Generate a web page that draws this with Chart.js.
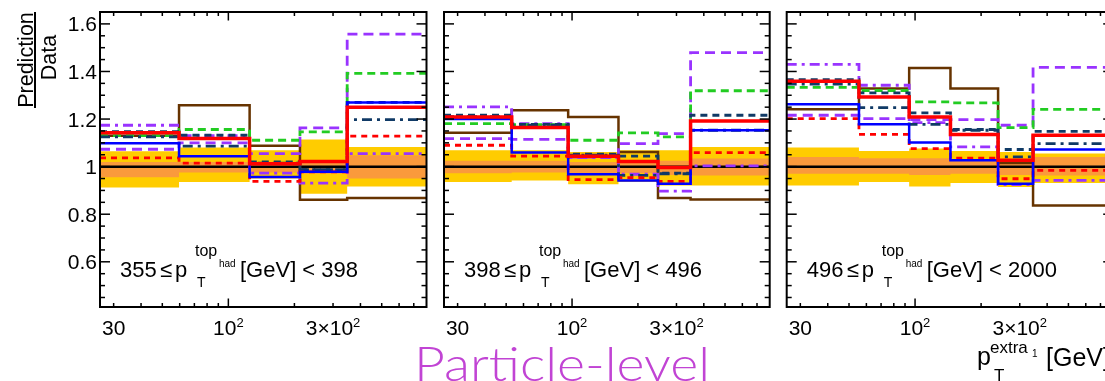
<!DOCTYPE html>
<html>
<head>
<meta charset="utf-8">
<script src="https://cdn.jsdelivr.net/npm/chart.js@4.4.1/dist/chart.umd.min.js"></script>
<style>
  html, body { margin: 0; padding: 0; background: #fff; width: 1105px; height: 381px; overflow: hidden; }
  canvas { position: absolute; left: 0; top: 0; }
</style>
</head>
<body>
<canvas id="panel0" width="1120" height="381"></canvas>
<canvas id="panel1" width="1120" height="381"></canvas>
<canvas id="panel2" width="1120" height="381"></canvas>
<script>
// ---- data -------------------------------------------------------------
// axis ranges: extra-jet pT in GeV (log) and Prediction/Data ratio
const xRange = [26, 800];
const yRange = [0.41, 1.65];
const unity = 1;

// bin edges of p_T^{extra1} in each p_T^{top,had} slice
const binEdges = [
  [26, 59.6, 125, 212, 348, 800],
  [26, 53, 96, 163, 247, 348, 800],
  [26, 55.5, 94, 145, 239, 345, 800]
];

// p_T^{top,had} slice boundaries [GeV]
const topSlices = [[355, 398], [398, 496], [496, 2000]];

// ratio predictions, one list per slice
const redSolid = [
  [1.142, 1.118, 1.012, 1.022, 1.250],
  [1.209, 1.164, 1.044, 1.022, 0.996, 1.192],
  [1.359, 1.293, 1.209, 1.135, 1.027, 1.132]
];
const blueSolid = [
  [1.098, 1.044, 0.956, 0.978, 1.270],
  [1.200, 1.059, 0.968, 0.942, 0.928, 1.153],
  [1.262, 1.178, 1.101, 1.027, 0.928, 1.072]
];
const brownSolid = [
  [1.130, 1.258, 1.088, 0.861, 0.868],
  [1.142, 1.237, 1.209, 1.062, 0.868, 0.862],
  [1.241, 1.328, 1.415, 1.328, 1.015, 0.837]
];
const greenDashed = [
  [1.130, 1.156, 1.111, 1.146, 1.392],
  [1.181, 1.177, 1.111, 1.142, 1.125, 1.319],
  [1.333, 1.320, 1.272, 1.268, 1.164, 1.241]
];
const purpleDashed = [
  [1.073, 1.100, 1.055, 1.163, 1.557],
  [1.118, 1.115, 1.040, 1.097, 1.139, 1.479],
  [1.216, 1.202, 1.198, 1.198, 1.174, 1.417]
];
const purpleDashDot = [
  [1.174, 1.130, 0.973, 0.931, 1.055],
  [1.251, 1.181, 1.038, 0.968, 0.897, 1.003],
  [1.430, 1.342, 1.185, 1.083, 0.925, 0.942]
];
const navyDashed = [
  [1.147, 1.132, 1.020, 0.987, 1.270],
  [1.216, 1.178, 1.052, 1.044, 0.973, 1.216],
  [1.366, 1.310, 1.226, 1.156, 1.072, 1.148]
];
const navyDashDot = [
  [1.125, 1.086, 1.015, 0.987, 1.198],
  [1.210, 1.174, 1.048, 0.963, 0.970, 1.153],
  [1.347, 1.248, 1.178, 1.153, 1.041, 1.097]
];
const redDashed = [
  [1.037, 1.015, 0.938, 0.978, 1.128],
  [1.090, 1.044, 0.945, 0.954, 0.938, 1.059],
  [1.202, 1.136, 1.076, 1.036, 0.949, 0.984]
];

// uncertainty bands (total: outer, statistical: inner)
const totalUp = [
  [1.065, 1.080, 1.069, 1.114, 1.083],
  [1.069, 1.069, 1.062, 1.069, 1.069, 1.083],
  [1.080, 1.066, 1.076, 1.066, 1.062, 1.055]
];
const totalDown = [
  [0.912, 0.935, 0.950, 0.886, 0.917],
  [0.935, 0.942, 0.926, 0.935, 0.921, 0.921],
  [0.921, 0.935, 0.917, 0.931, 0.914, 0.931]
];
const statUp = [
  [1.020, 1.020, 1.020, 1.015, 1.048],
  [1.025, 1.025, 1.020, 1.025, 1.025, 1.034],
  [1.041, 1.035, 1.035, 1.030, 1.030, 1.041]
];
const statDown = [
  [0.955, 0.975, 0.975, 0.970, 0.950],
  [0.972, 0.975, 0.970, 0.972, 0.965, 0.963],
  [0.970, 0.970, 0.965, 0.970, 0.965, 0.963]
];

// tick labels
const yTickValues = [0.6, 0.8, 1.0, 1.2, 1.4, 1.6];
const yTickLabels = ['0.6', '0.8', '1', '1.2', '1.4', '1.6'];
const xTickValues = [30, 100, 300];
const xTickLabels = [['30', ''], ['10', '2'], ['3\u00d710', '2']];
const xMinorValues = [30, 40, 50, 60, 70, 80, 90, 200, 300, 400, 500, 600, 700];
const xMajorValues = [100];

// ---- styling ----------------------------------------------------------
const FONT = "'Liberation Sans', Arial, Helvetica, sans-serif";
const panelBoxes = [
  { left: 100, right: 426.5 },
  { left: 444, right: 769.7 },
  { left: 786.7, right: 1113.2 }
];
const plotTop = 12, plotBottom = 307;

const seriesStyles = [
  { data: brownSolid,    color: '#663300', width: 2.5, dash: [],             order: 18 },
  { data: purpleDashed,  color: '#9933ff', width: 2.8, dash: [10, 6],        order: 17 },
  { data: purpleDashDot, color: '#9933ff', width: 2.8, dash: [10, 5, 3, 5],  order: 16 },
  { data: greenDashed,   color: '#22cc22', width: 2.8, dash: [8, 5],         order: 15 },
  { data: navyDashed,    color: '#103a66', width: 2.8, dash: [7, 5],         order: 14 },
  { data: navyDashDot,   color: '#103a66', width: 2.8, dash: [10, 5, 3, 5],  order: 13 },
  { data: redDashed,     color: '#ff0000', width: 2.8, dash: [6, 5],         order: 12 },
  { data: blueSolid,     color: '#0000ff', width: 2.5, dash: [],             order: 11 },
  { data: redSolid,      color: '#ff0000', width: 3.5, dash: [],             order: 10 }
];

// histogram outline: value held across each bin, stepping at the edges
function histPoints(edges, values) {
  const pts = values.map((v, i) => ({ x: edges[i], y: v }));
  pts.push({ x: edges[edges.length - 1], y: values[values.length - 1] });
  return pts;
}

function buildDatasets(p) {
  const e = binEdges[p];
  const sets = [];
  sets.push({ data: histPoints(e, totalUp[p]), fill: '+1', backgroundColor: '#ffcc00',
              borderWidth: 0, stepped: true, order: 40 });
  sets.push({ data: histPoints(e, totalDown[p]), fill: false, borderWidth: 0, stepped: true, order: 40 });
  sets.push({ data: histPoints(e, statUp[p]), fill: '+1', backgroundColor: '#fa9a3c',
              borderWidth: 0, stepped: true, order: 35 });
  sets.push({ data: histPoints(e, statDown[p]), fill: false, borderWidth: 0, stepped: true, order: 35 });
  sets.push({ data: [{ x: xRange[0], y: unity }, { x: xRange[1], y: unity }], borderColor: '#000',
              borderWidth: 2.5, fill: false, order: 30 });
  seriesStyles.forEach(s => {
    sets.push({ data: histPoints(e, s.data[p]), borderColor: s.color, borderWidth: s.width,
                borderDash: s.dash, fill: false, stepped: true, order: s.order });
  });
  return sets;
}

function seg(ctx, x1, y1, x2, y2) {
  ctx.beginPath(); ctx.moveTo(x1, y1); ctx.lineTo(x2, y2); ctx.stroke();
}

// text with a raised exponent, centred on cx
function supText(ctx, base, sup, cx, baseline, size, supSize) {
  ctx.font = size + 'px ' + FONT;
  const wb = ctx.measureText(base).width;
  ctx.font = supSize + 'px ' + FONT;
  const ws = sup ? ctx.measureText(sup).width : 0;
  const x0 = cx - (wb + ws) / 2;
  ctx.font = size + 'px ' + FONT;
  ctx.textAlign = 'left';
  ctx.fillText(base, x0, baseline);
  if (sup) {
    ctx.font = supSize + 'px ' + FONT;
    ctx.fillText(sup, x0 + wb, baseline - 8);
  }
}

function drawSliceLabel(ctx, x0, y0, lo, hi) {
  ctx.textAlign = 'left';
  ctx.textBaseline = 'alphabetic';
  ctx.font = '22px ' + FONT;
  ctx.fillText(String(lo), x0, y0);
  ctx.fillText('\u2264', x0 + 40, y0);
  ctx.fillText('p', x0 + 55, y0);
  ctx.font = '14px ' + FONT;
  ctx.fillText('T', x0 + 77, y0 + 10);
  ctx.font = '16px ' + FONT;
  ctx.fillText('top', x0 + 75, y0 - 21);
  ctx.font = '10px ' + FONT;
  ctx.fillText('had', x0 + 99, y0 - 10);
  ctx.font = '22px ' + FONT;
  ctx.fillText('[GeV] < ' + hi, x0 + 120, y0);
}

function decorations(p) {
  return {
    id: 'deco' + p,
    afterDraw(chart) {
      const ctx = chart.ctx;
      const a = chart.chartArea;
      const xs = chart.scales.x, ys = chart.scales.y;
      ctx.save();
      ctx.strokeStyle = '#000';
      ctx.fillStyle = '#000';
      ctx.lineWidth = 1.5;
      // y ticks, inward on both sides
      for (let k = 9; k <= 32; k++) {
        const py = ys.getPixelForValue(k * 0.05);
        const len = (k % 4 === 0) ? 10 : 5;
        seg(ctx, a.left, py, a.left + len, py);
        seg(ctx, a.right, py, a.right - len, py);
      }
      // x ticks, inward on bottom and top
      xMinorValues.forEach(v => {
        const px = xs.getPixelForValue(v);
        seg(ctx, px, a.bottom, px, a.bottom - 4);
        seg(ctx, px, a.top, px, a.top + 4);
      });
      xMajorValues.forEach(v => {
        const px = xs.getPixelForValue(v);
        seg(ctx, px, a.bottom, px, a.bottom - 8.5);
        seg(ctx, px, a.top, px, a.top + 8.5);
      });
      // frame
      ctx.lineWidth = 2;
      ctx.strokeRect(a.left, a.top, a.right - a.left, a.bottom - a.top);

      // x tick labels
      ctx.textBaseline = 'alphabetic';
      xTickValues.forEach((v, i) => {
        supText(ctx, xTickLabels[i][0], xTickLabels[i][1], xs.getPixelForValue(v), 335, 21, 13);
      });

      // y tick labels only on the first panel
      if (p === 0) {
        ctx.font = '21px ' + FONT;
        ctx.textAlign = 'right';
        yTickValues.forEach((v, i) => {
          ctx.fillText(yTickLabels[i], a.left - 3, ys.getPixelForValue(v) + 7.5);
        });
        // axis title: Prediction / Data
        ctx.font = '21.5px ' + FONT;
        ctx.textAlign = 'center';
        ctx.save();
        ctx.translate(33, 60);
        ctx.rotate(-Math.PI / 2);
        ctx.fillText('Prediction', 0, 0);
        ctx.restore();
        ctx.save();
        ctx.translate(55.5, 57.5);
        ctx.rotate(-Math.PI / 2);
        ctx.fillText('Data', 0, 0);
        ctx.restore();
        ctx.fillRect(34, 12, 2, 96);
      }

      drawSliceLabel(ctx, a.left + 20, 277, topSlices[p][0], topSlices[p][1]);

      if (p === 1) {
        // level annotation
        ctx.fillStyle = '#c144d4';
        ctx.textAlign = 'left';
        const fam = "Lato, 'Open Sans', sans-serif";
        ctx.font = '300 48px ' + fam;
        const w = ctx.measureText('Particle-level').width;
        ctx.save();
        ctx.translate(414, 381);
        ctx.scale(296 / w, 1);
        ctx.fillText('Particle-level', 0, 0);
        ctx.restore();
      }
      if (p === 2) {
        // x-axis title
        ctx.fillStyle = '#000';
        ctx.textAlign = 'left';
        ctx.font = '25px ' + FONT;
        ctx.fillText('p', 977, 365);
        ctx.font = '17px ' + FONT;
        ctx.fillText('T', 994, 381);
        ctx.font = '17px ' + FONT;
        ctx.fillText('extra', 990, 353);
        ctx.font = '10px ' + FONT;
        ctx.fillText('1', 1032, 357);
        ctx.font = '25px ' + FONT;
        ctx.fillText('[GeV]', 1046, 366);
      }
      ctx.restore();
    }
  };
}

[0, 1, 2].forEach(p => {
  const box = panelBoxes[p];
  const canvas = document.getElementById('panel' + p);
  new Chart(canvas, {
    type: 'line',
    data: { datasets: buildDatasets(p) },
    options: {
      responsive: false,
      animation: false,
      events: [],
      devicePixelRatio: 1,
      layout: {
        padding: { left: box.left, right: canvas.width - box.right, top: plotTop, bottom: canvas.height - plotBottom }
      },
      elements: { point: { radius: 0 }, line: { tension: 0 } },
      scales: {
        x: { type: 'logarithmic', min: xRange[0], max: xRange[1], bounds: 'data', display: false },
        y: { type: 'linear', min: yRange[0], max: yRange[1], bounds: 'data', display: false }
      },
      plugins: {
        legend: { display: false },
        tooltip: { enabled: false },
        filler: { drawTime: 'beforeDatasetsDraw' }
      }
    },
    plugins: [decorations(p)]
  });
});
</script>
</body>
</html>
